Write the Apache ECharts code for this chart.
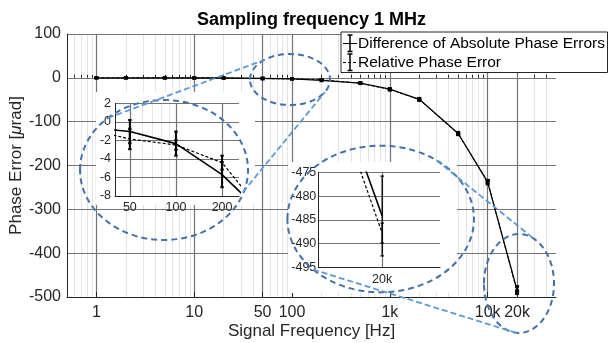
<!DOCTYPE html>
<html>
<head>
<meta charset="utf-8">
<script src="https://cdn.jsdelivr.net/npm/echarts@6/dist/echarts.min.js"></script>
<style>
html, body { margin: 0; background: #fff; }
#chart { width: 609px; height: 343px; }
</style>
</head>
<body>
<div id="chart"></div>
<script>
// signal frequencies [Hz]
var freqs = [1, 2, 5, 10, 20, 50, 100, 200, 500, 1000, 2000, 5000, 10000, 20000];
// difference of absolute phase errors [urad] and error bar half widths
var absDiff = [-0.02, -0.04, -0.1, -0.2, -0.4, -1.05, -2.35, -5.7, -12, -26, -49, -127, -238, -484.2];
var absDiffErr = [1, 1, 1, 1, 1, 1.25, 1.3, 1.35, 1.5, 2, 2.5, 3, 4.5, 8.4];
// relative phase error [urad] and error bar half widths
var relErr = [-0.02, -0.04, -0.1, -0.2, -0.3, -1.85, -2.5, -4.4, -12.5, -26.5, -49.5, -128, -236, -487.8];
var relErrBar = [0.8, 0.8, 0.8, 0.8, 0.8, 1.1, 0.5, 0.75, 1, 1.5, 2, 2, 2, 2.1];

var xTicks = [1, 10, 50, 100, 1000, 10000, 20000];
var xTickLabels = ['1', '10', '50', '100', '1k', '10k', '20k'];
var inset1Ticks = [50, 100, 200];
var inset1Labels = ['50', '100', '200'];
var inset2Ticks = [20000];
var inset2Labels = ['20k'];

var FONT = 'Liberation Sans, Arial, sans-serif';
var DARK = '#262626';
var GRID = '#737373';
var MINOR = '#e4e4e4';

function minorTicks(lo, hi, skip) {
  var out = [];
  [0.1, 1, 10, 100, 1000, 10000].forEach(function (d) {
    for (var m = 2; m <= 9; m++) {
      var v = Math.round(m * d * 100) / 100;
      if (v > lo && v < hi && skip.indexOf(v) < 0) out.push(v);
    }
  });
  return out;
}

function labelOf(ticks, labels) {
  return function (v) {
    for (var i = 0; i < ticks.length; i++) {
      if (Math.abs(v - ticks[i]) / ticks[i] < 1e-3) return labels[i];
    }
    return '';
  };
}

function pairs(vals, lo, hi) {
  var d = [];
  freqs.forEach(function (f, i) { if (f >= lo && f <= hi) d.push([f, vals[i]]); });
  return d;
}

function bars(vals, errs, lo, hi) {
  var d = [];
  freqs.forEach(function (f, i) {
    if (f >= lo && f <= hi) d.push([f, vals[i] - errs[i], vals[i] + errs[i]]);
  });
  return d;
}

function errorSeries(xi, yi, data, capW, lw, z) {
  return {
    type: 'custom', xAxisIndex: xi, yAxisIndex: yi, z: z, silent: true,
    encode: { x: 0, y: [1, 2] },
    renderItem: function (params, api) {
      var x = api.value(0);
      var top = api.coord([x, api.value(2)]);
      var bot = api.coord([x, api.value(1)]);
      var st = { stroke: '#000', lineWidth: lw };
      return {
        type: 'group',
        children: [
          { type: 'line', shape: { x1: top[0], y1: top[1], x2: bot[0], y2: bot[1] }, style: st },
          { type: 'line', shape: { x1: top[0] - capW, y1: top[1], x2: top[0] + capW, y2: top[1] }, style: st },
          { type: 'line', shape: { x1: bot[0] - capW, y1: bot[1], x2: bot[0] + capW, y2: bot[1] }, style: st }
        ]
      };
    },
    data: data
  };
}

function lineSeries(xi, yi, data, width, dashed, z) {
  return {
    type: 'line', xAxisIndex: xi, yAxisIndex: yi, z: z, silent: true,
    symbol: 'none', clip: true,
    lineStyle: { color: '#000', width: width, type: dashed ? [3, 2] : 'solid' },
    data: data
  };
}

function legendItem(y, text, dashed) {
  return [
    { type: 'line', z: 31, shape: { x1: 343, y1: y, x2: 357, y2: y }, style: { stroke: '#000', lineWidth: 1, lineDash: dashed ? [3, 2] : null } },
    { type: 'line', z: 31, shape: { x1: 350, y1: y - 8.5, x2: 350, y2: y + 8 }, style: { stroke: '#000', lineWidth: 1.5 } },
    { type: 'line', z: 31, shape: { x1: 347.5, y1: y - 8.5, x2: 352.5, y2: y - 8.5 }, style: { stroke: '#000', lineWidth: 1.5 } },
    { type: 'line', z: 31, shape: { x1: 347.5, y1: y + 8, x2: 352.5, y2: y + 8 }, style: { stroke: '#000', lineWidth: 1.5 } },
    { type: 'text', z: 31, x: 358, y: y, style: { text: text, fontFamily: FONT, fontSize: 15.5, fill: '#000', verticalAlign: 'middle' } }
  ];
}

var main = { min: 0.5, max: 50000 };
var ins1 = { min: 40, max: 258 };
var ins2 = { min: 18000, max: 22000 };

var chart = echarts.init(document.getElementById('chart'));

var graphics = [
  // white backgrounds of the zoom insets
  { type: 'rect', z: 3, silent: true, shape: { x: 96, y: 92, width: 159, height: 113 }, style: { fill: '#fff' } },
  { type: 'rect', z: 3, silent: true, shape: { x: 288, y: 162, width: 169, height: 131 }, style: { fill: '#fff' } },
  // zoom ellipses and connectors
  { type: 'ellipse', z: 20, silent: true, shape: { cx: 290, cy: 79.5, rx: 40, ry: 25.5 },
    style: { fill: null, stroke: '#4472a8', lineWidth: 2, lineDash: [6, 4] } },
  { type: 'ellipse', z: 20, silent: true, shape: { cx: 164, cy: 170, rx: 84, ry: 70 },
    style: { fill: null, stroke: '#4472a8', lineWidth: 2, lineDash: [6, 4] } },
  { type: 'ellipse', z: 20, silent: true, shape: { cx: 519, cy: 283.5, rx: 35, ry: 49.5 },
    style: { fill: null, stroke: '#4472a8', lineWidth: 2, lineDash: [6, 4] } },
  { type: 'ellipse', z: 20, silent: true, shape: { cx: 380.7, cy: 219, rx: 93.3, ry: 73.3 },
    style: { fill: null, stroke: '#4472a8', lineWidth: 2, lineDash: [6, 4] } },
  { type: 'line', z: 20, silent: true, shape: { x1: 108, y1: 118, x2: 264, y2: 60 },
    style: { stroke: '#5b9bd5', lineWidth: 1.8, lineDash: [6, 3] } },
  { type: 'line', z: 20, silent: true, shape: { x1: 243, y1: 192, x2: 325, y2: 92 },
    style: { stroke: '#5b9bd5', lineWidth: 1.8, lineDash: [6, 3] } },
  { type: 'line', z: 20, silent: true, shape: { x1: 436.7, y1: 160.5, x2: 533, y2: 238 },
    style: { stroke: '#5b9bd5', lineWidth: 1.8, lineDash: [6, 3] } },
  { type: 'line', z: 20, silent: true, shape: { x1: 313, y1: 269.5, x2: 516.7, y2: 333 },
    style: { stroke: '#5b9bd5', lineWidth: 1.8, lineDash: [6, 3] } },
  // legend box
  { type: 'rect', z: 30, silent: true, shape: { x: 341, y: 32, width: 266.5, height: 40.5 },
    style: { fill: '#fff', stroke: DARK, lineWidth: 1 } }
].concat(
  legendItem(43.5, 'Difference of Absolute Phase Errors', false),
  legendItem(62.5, 'Relative Phase Error', true)
);

var option = {
  animation: false,
  backgroundColor: '#fff',
  title: {
    text: 'Sampling frequency 1 MHz',
    left: 311.5, top: 11, padding: 0, textAlign: 'center',
    textStyle: { fontFamily: FONT, fontSize: 18, fontWeight: 'bold', color: '#000' }
  },
  grid: [
    { left: 67, top: 34, width: 489, height: 263, outerBoundsMode: 'none', containLabel: false },
    { left: 115, top: 103.3, width: 124, height: 92.7, outerBoundsMode: 'none', containLabel: false },
    { left: 318.3, top: 172.3, width: 121.7, height: 95, outerBoundsMode: 'none', containLabel: false }
  ],
  xAxis: [
    { // main minor grid
      type: 'log', gridIndex: 0, min: main.min, max: main.max, position: 'bottom', z: 0,
      axisLine: { show: false }, axisLabel: { show: false },
      axisTick: { inside: true, length: 3, customValues: minorTicks(main.min, main.max, xTicks), lineStyle: { color: DARK } },
      splitLine: { show: true, lineStyle: { color: MINOR, width: 1 } }
    },
    { // main
      type: 'log', gridIndex: 0, min: main.min, max: main.max, position: 'bottom', z: 1,
      name: 'Signal Frequency [Hz]', nameLocation: 'middle', nameGap: 26, nameMoveOverlap: false,
      nameTextStyle: { fontFamily: FONT, fontSize: 17, color: DARK },
      axisLine: { show: true, onZero: false, lineStyle: { color: DARK, width: 1 } },
      axisTick: { inside: true, length: 5, customValues: xTicks, lineStyle: { color: DARK } },
      axisLabel: { customValues: xTicks, formatter: labelOf(xTicks, xTickLabels), margin: 8,
        fontFamily: FONT, fontSize: 16, color: DARK },
      splitLine: { show: true, lineStyle: { color: GRID, width: 1.2 } }
    },
    { // inset 1 minor grid
      type: 'log', gridIndex: 1, min: ins1.min, max: ins1.max, position: 'bottom', z: 4,
      axisLine: { show: false }, axisLabel: { show: false }, axisTick: { show: false, customValues: minorTicks(ins1.min, ins1.max, inset1Ticks) },
      splitLine: { show: true, lineStyle: { color: MINOR, width: 1 } }
    },
    { // inset 1
      type: 'log', gridIndex: 1, min: ins1.min, max: ins1.max, position: 'bottom', z: 5,
      axisLine: { show: true, onZero: false, lineStyle: { color: DARK } },
      axisTick: { show: false, customValues: inset1Ticks },
      axisLabel: { customValues: inset1Ticks, formatter: labelOf(inset1Ticks, inset1Labels), margin: 5,
        fontFamily: FONT, fontSize: 12.5, color: DARK },
      splitLine: { show: true, lineStyle: { color: GRID, width: 1.2 } }
    },
    { // inset 2
      type: 'log', gridIndex: 2, min: ins2.min, max: ins2.max, position: 'bottom', z: 5,
      axisLine: { show: true, onZero: false, lineStyle: { color: DARK } },
      axisTick: { show: false, customValues: inset2Ticks },
      axisLabel: { customValues: inset2Ticks, formatter: labelOf(inset2Ticks, inset2Labels), margin: 6,
        fontFamily: FONT, fontSize: 12.5, color: DARK },
      splitLine: { show: true, lineStyle: { color: GRID, width: 1.2 } }
    }
  ],
  yAxis: [
    {
      type: 'value', gridIndex: 0, min: -500, max: 100, interval: 100, z: 1,
      name: 'Phase Error [{i|μ}rad]', nameLocation: 'middle', nameGap: 42, nameMoveOverlap: false,
      nameTextStyle: { fontFamily: FONT, fontSize: 17, color: DARK,
        rich: { i: { fontFamily: FONT, fontSize: 17, fontStyle: 'italic', color: DARK } } },
      axisLine: { show: true, lineStyle: { color: DARK } },
      axisTick: { show: false },
      axisLabel: { margin: 6, fontFamily: FONT, fontSize: 16, color: DARK },
      splitLine: { show: true, lineStyle: { color: GRID, width: 1.2 } }
    },
    {
      type: 'value', gridIndex: 1, min: -8, max: 2, interval: 2, z: 5,
      axisLine: { show: true, lineStyle: { color: DARK } },
      axisTick: { show: false },
      axisLabel: { margin: 4, fontFamily: FONT, fontSize: 12.5, color: DARK },
      splitLine: { show: true, lineStyle: { color: GRID, width: 1.2 } }
    },
    {
      type: 'value', gridIndex: 2, min: -495, max: -475, interval: 5, z: 5,
      axisLine: { show: true, lineStyle: { color: DARK } },
      axisTick: { show: false },
      axisLabel: { margin: 2, fontFamily: FONT, fontSize: 12.5, color: DARK },
      splitLine: { show: true, lineStyle: { color: GRID, width: 1.2 } }
    }
  ],
  series: [
    lineSeries(1, 0, pairs(relErr, main.min, main.max), 1, true, 2),
    lineSeries(1, 0, pairs(absDiff, main.min, main.max), 1.3, false, 2),
    errorSeries(1, 0, bars(relErr, relErrBar, main.min, main.max), 2, 2.6, 3),
    errorSeries(1, 0, bars(absDiff, absDiffErr, main.min, main.max), 2, 2.6, 3),

    lineSeries(3, 1, pairs(relErr, 1, 1e6), 1.2, true, 6),
    lineSeries(3, 1, pairs(absDiff, 1, 1e6), 1.6, false, 6),
    errorSeries(3, 1, bars(relErr, relErrBar, ins1.min, ins1.max), 1.7, 2, 7),
    errorSeries(3, 1, bars(absDiff, absDiffErr, ins1.min, ins1.max), 1.7, 2, 7),

    lineSeries(4, 2, pairs(relErr, 1, 1e6), 1.2, true, 6),
    lineSeries(4, 2, pairs(absDiff, 1, 1e6), 1.6, false, 6),
    errorSeries(4, 2, bars(relErr, relErrBar, ins2.min, ins2.max), 1.7, 1.3, 7),
    errorSeries(4, 2, bars(absDiff, absDiffErr, ins2.min, ins2.max), 1.7, 1.3, 7)
  ],
  graphic: graphics
};

chart.setOption(option);
</script>
</body>
</html>
